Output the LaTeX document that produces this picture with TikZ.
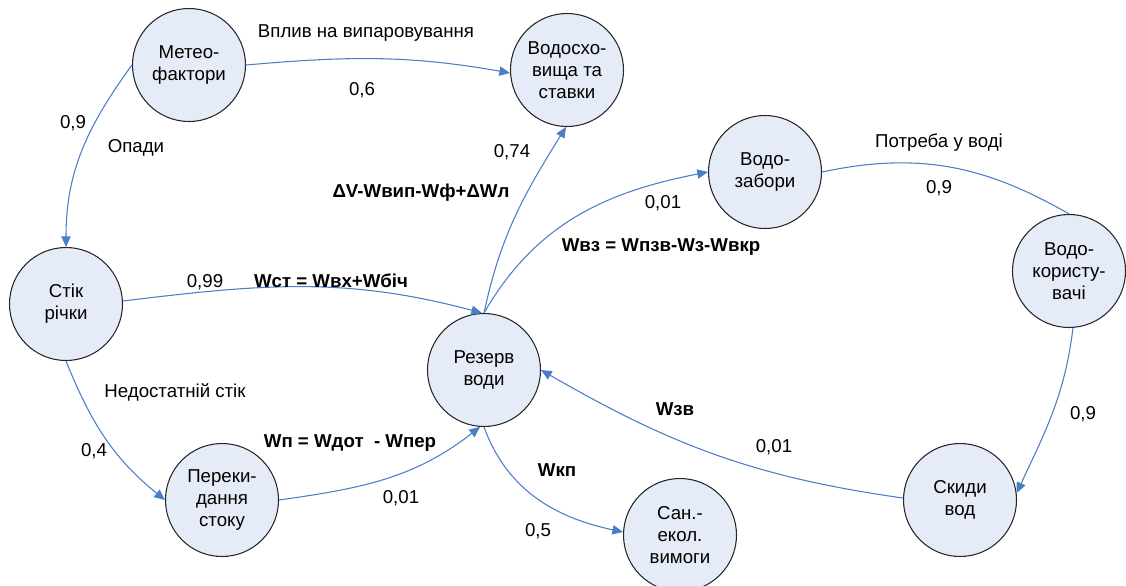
\documentclass[tikz,border=0pt]{standalone}
\usepackage{fontspec}
\setmainfont{Liberation Sans}
\usetikzlibrary{arrows.meta}
\definecolor{edgeblue}{RGB}{74,126,199}
\definecolor{nodefill}{RGB}{230,236,247}
\definecolor{nodeline}{RGB}{40,40,40}
\begin{document}
\begin{tikzpicture}[x=0.75pt,y=0.75pt,
  state/.style={circle, draw=nodeline, line width=0.8pt, fill=nodefill, minimum size=84.75pt, inner sep=0pt, align=center, font=\fontsize{14}{16.5}\selectfont},
  lbl/.style={inner sep=0pt, text height=10pt, text depth=3pt, font=\fontsize{14}{16.5}\selectfont},
  blbl/.style={inner sep=0pt, text height=10pt, text depth=3pt, font=\fontsize{14}{16.5}\selectfont\bfseries},
  flow/.style={draw=edgeblue, line width=0.8pt, -{Triangle[length=8pt,width=7pt]}},
  link/.style={draw=edgeblue, line width=0.8pt}]
\useasboundingbox (0,0) rectangle (1126,-585);
% nodes
\node[state] (meteo) at (189,-65) {Метео-\\фактори};
\node[state] (vodos) at (567,-70) {Водосхо-\\вища та\\ставки};
\node[state] (stik) at (66,-304) {Стік\\річки};
\node[state] (rez) at (484,-370) {Резерв\\води};
\node[state] (perek) at (222,-500) {Переки-\\дання\\стоку};
\node[state] (san) at (680,-535) {Сан.-\\екол.\\вимоги};
\node[state] (skidy) at (960,-500) {Скиди\\вод};
\node[state] (vodozab) at (765,-172) {Водо-\\забори};
\node[state] (vodokor) at (1069,-271) {Водо-\\користу-\\вачі};
% connectors
\draw[flow] (meteo.east) to[out=5,in=170] (vodos.183);
\draw[flow] (meteo.west) to[out=-126,in=90] (stik.north);
\draw[flow] (stik.3) to[out=7,in=165] (rez.92);
\draw[flow] (rez.north) to[out=78,in=-122] (vodos.-91);
\draw[flow] (rez.north) to[out=60,in=191] (vodozab.west);
\draw[link] (vodozab.east) to[out=12,in=150] (vodokor.north);
\draw[flow] (vodokor.-86) to[out=-97,in=65] (skidy.7);
\draw[flow] (skidy.178) to[out=172,in=-30] (rez.east);
\draw[flow] (perek.east) to[out=8,in=-142] (rez.-94);
\draw[flow] (stik.south) to[out=-68,in=141] (perek.west);
\draw[flow] (rez.south) to[out=-70,in=168] (san.177);
% labels
\node[lbl] (t1) at (366,-33) {Вплив на випаровування};
\node[lbl] (t2) at (362,-91) {0,6};
\node[lbl] (t3) at (73,-124) {0,9};
\node[lbl] (t4) at (136,-148) {Опади};
\node[lbl] (t5) at (512,-153) {0,74};
\node[blbl] (t6) at (421,-193) {ΔV-Wвип-Wф+ΔWл};
\node[lbl] (t7) at (205,-283) {0,99};
\node[blbl] (t8) at (331,-283) {Wст = Wвх+Wбіч};
\node[lbl] (t9) at (939,-143) {Потреба у воді};
\node[lbl] (t10) at (939,-189) {0,9};
\node[lbl] (t11) at (663,-204) {0,01};
\node[blbl] (t12) at (661,-247) {Wвз = Wпзв-Wз-Wвкр};
\node[lbl] (t13) at (175,-393) {Недостатній стік};
\node[lbl] (t14) at (94,-452) {0,4};
\node[blbl] (t15) at (350,-443) {Wп = Wдот\ \ - Wпер};
\node[lbl] (t16) at (401,-499) {0,01};
\node[blbl] (t17) at (557,-472) {Wкп};
\node[lbl] (t18) at (538,-532) {0,5};
\node[blbl] (t19) at (675,-411) {Wзв};
\node[lbl] (t20) at (774,-448) {0,01};
\node[lbl] (t21) at (1083,-415) {0,9};
\end{tikzpicture}
\end{document}
